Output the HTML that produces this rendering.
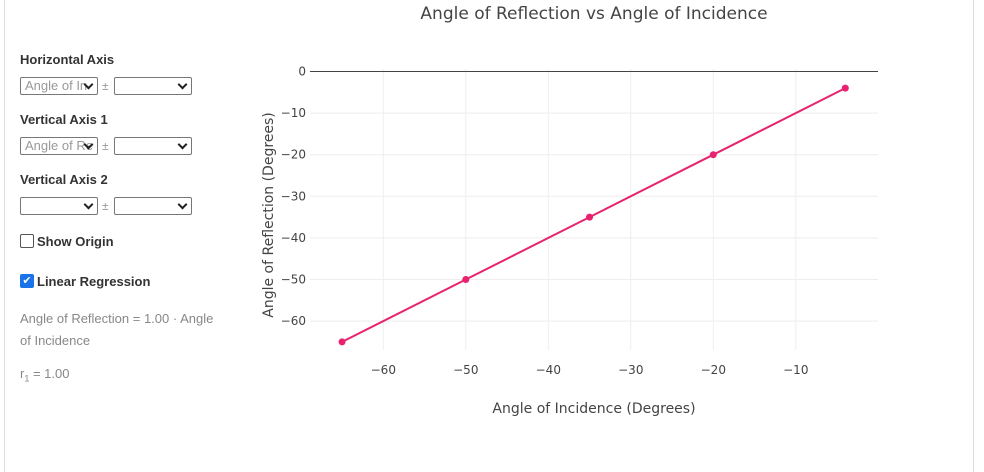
<!DOCTYPE html>
<html style="overflow:hidden;height:472px"><head><meta charset="utf-8"><style>
body{margin:0;width:984px;height:472px;background:#fff;overflow:hidden;font-family:"Liberation Sans",sans-serif;position:relative}
.card{position:absolute;left:4px;top:-2px;width:968px;height:476px;border:1px solid #ddd;border-top:none;border-bottom:none}
.lbl{position:absolute;left:20px;font-size:13px;font-weight:bold;color:#333}
.sel{position:absolute;border:1px solid #777;border-radius:2px;font-size:13px;color:#999;line-height:16px;padding-left:4px;box-sizing:border-box;height:18px;overflow:hidden;white-space:nowrap}
.sel::after{content:"";position:absolute;right:5px;top:3px;width:5px;height:5px;border-right:2px solid #222;border-bottom:2px solid #222;transform:rotate(45deg)}
.pm{position:absolute;font-size:12px;color:#999}
.cb{position:absolute;left:20px;width:12px;height:12px;border:1px solid #555;border-radius:2px}
.txt{position:absolute;left:20px;font-size:13px;color:#888;line-height:22px}
svg text{font-family:"DejaVu Sans",sans-serif}
</style></head><body>
<div class="card"></div>
<div class="lbl" style="top:52px">Horizontal Axis</div>
<div class="sel" style="left:20px;top:77px;width:78px">Angle of In</div>
<div class="pm" style="left:102px;top:79px">±</div>
<div class="sel" style="left:114px;top:77px;width:78px"></div>
<div class="lbl" style="top:112px">Vertical Axis 1</div>
<div class="sel" style="left:20px;top:137px;width:78px">Angle of Re</div>
<div class="pm" style="left:102px;top:139px">±</div>
<div class="sel" style="left:114px;top:137px;width:78px"></div>
<div class="lbl" style="top:172px">Vertical Axis 2</div>
<div class="sel" style="left:20px;top:197px;width:78px"></div>
<div class="pm" style="left:102px;top:199px">±</div>
<div class="sel" style="left:114px;top:197px;width:78px"></div>
<div class="cb" style="top:234px"></div>
<div class="lbl" style="top:234px;left:37px">Show Origin</div>
<div class="cb" style="top:274px;background:#1a73e8;border-color:#1a73e8;color:#fff;font-size:11px;line-height:12px;text-align:center">✔</div>
<div class="lbl" style="top:274px;left:37px">Linear Regression</div>
<div class="txt" style="top:308px;width:200px">Angle of Reflection = 1.00 · Angle of Incidence</div>
<div class="txt" style="top:363px">r<sub style="font-size:9px">1</sub> = 1.00</div>
<svg id="chart" width="984" height="472" style="position:absolute;left:0;top:0"></svg>
<script>
const xVals=[-65,-50,-35,-20,-4];
const yVals=[-65,-50,-35,-20,-4];
const xTicks=[-60,-50,-40,-30,-20,-10];
const yTicks=[0,-10,-20,-30,-40,-50,-60];
const NS="http://www.w3.org/2000/svg";
const svg=document.getElementById('chart');
const L=310,R=878,T=69,B=350;
const sx=v=>383.3+(v+60)*8.25;
const sy=v=>71.5+(-v)*4.16;
function mk(t,a,p){const e=document.createElementNS(NS,t);for(const k in a)e.setAttribute(k,a[k]);(p||svg).appendChild(e);return e;}
xTicks.forEach(t=>{
 const g=mk('line',{x1:sx(t),x2:sx(t),y1:T,y2:B,stroke:'#eee'});
 
 
 const tx=mk('text',{x:sx(t),y:374,'text-anchor':'middle','font-size':12,fill:'#444'});
 tx.textContent=String(t).replace('-','−');
 
 
});
yTicks.forEach(t=>{
 const g=mk('line',{x1:L,x2:R,y1:sy(t),y2:sy(t),stroke:t===0?'#444':'#eee'});
 
 
 const tx=mk('text',{x:306,y:sy(t)+4,'text-anchor':'end','font-size':12,fill:'#444'});
 tx.textContent=String(t).replace('-','−');
 
 
});
const pl=mk('polyline',{points:xVals.map((x,i)=>sx(x)+','+sy(yVals[i])).join(' '),fill:'none',stroke:'#e8226e','stroke-width':2});


xVals.forEach((x,i)=>{
 const c=mk('circle',{cx:sx(x),cy:sy(yVals[i]),r:3.5,fill:'#e8226e'});
 
 
});
const ti=mk('text',{x:594,y:19,'text-anchor':'middle','font-size':17,fill:'#444'});
ti.textContent='Angle of Reflection vs Angle of Incidence';


const xt=mk('text',{x:594,y:413,'text-anchor':'middle','font-size':14,fill:'#444'});
xt.textContent='Angle of Incidence (Degrees)';


const yt=mk('text',{x:0,y:0,'text-anchor':'middle','font-size':14,fill:'#444',transform:'translate(273,215) rotate(-90)'});
yt.textContent='Angle of Reflection (Degrees)';


</script>
</body></html>
